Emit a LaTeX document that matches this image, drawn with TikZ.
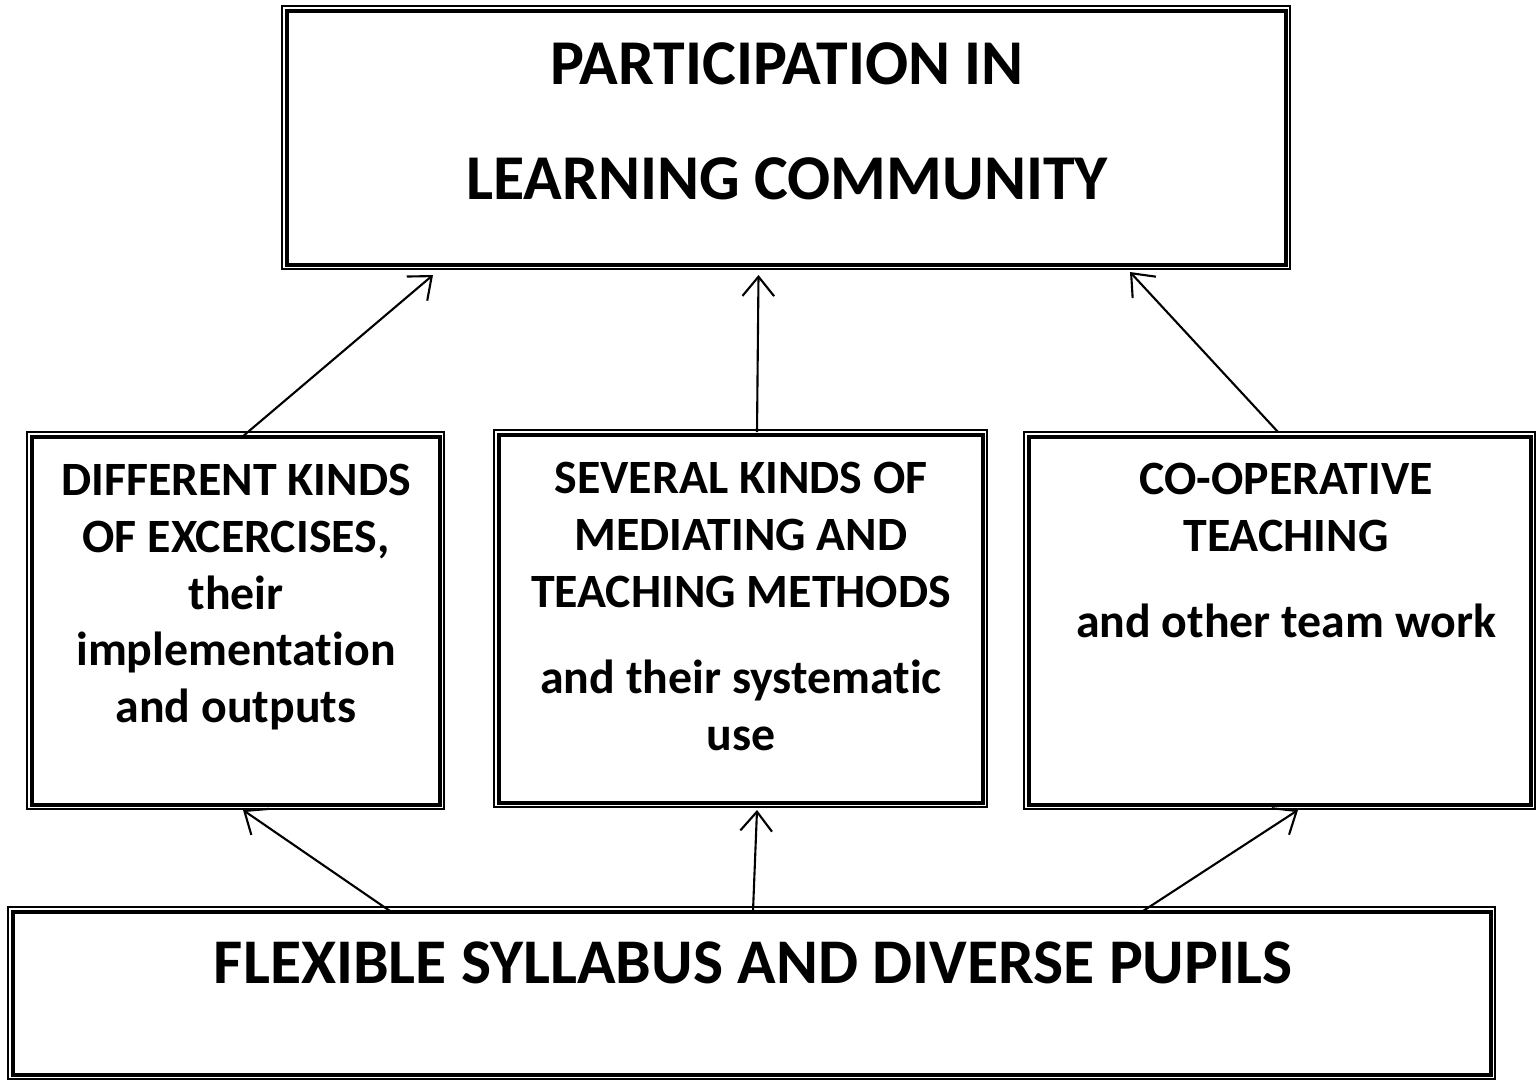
\documentclass[tikz,border=0pt]{standalone}
\usepackage{fontspec}
\setmainfont[Ligatures=NoCommon]{Carlito}
\usetikzlibrary{arrows.meta,fit,calc}
\begin{document}
\begin{tikzpicture}[x=0.01cm,y=-0.01cm,
  box/.style={draw, line width=1.15pt, rectangle, inner sep=0pt, outer sep=0pt},
  frame/.style={line width=0.45pt},
  link/.style={line width=0.6pt, -{Straight Barb[length=5.5pt,width=9pt,line width=0.6pt]}},
  headtxt/.style={font=\bfseries\fontsize{18.15}{32.7}\selectfont, align=center, inner sep=0pt, anchor=north},
  boxtxt/.style={font=\bfseries\fontsize{13.6}{16.2}\selectfont, align=center, inner sep=0pt, anchor=north},
  basetxt/.style={font=\bfseries\fontsize{18.1}{22}\selectfont, align=center, inner sep=0pt, anchor=north}]
\useasboundingbox (0,0) rectangle (1537,1081);

% boxes: thick inner border
\node[box, fit={(287,11) (1286,265)}] (top) {};
\node[box, fit={(32,437) (440,805)}] (b1) {};
\node[box, fit={(499,435) (983,803)}] (b2) {};
\node[box, fit={(1029,437) (1531,805)}] (b3) {};
\node[box, fit={(13,912) (1491,1075)}] (b4) {};

% thin outer borders
\foreach \n in {top,b1,b2,b3,b4}
  \draw[frame] ($(\n.north west)+(-5,-5)$) rectangle ($(\n.south east)+(4,4)$);

% texts
\node[headtxt] (t0) at (787,42) {PARTICIPATION IN\\LEARNING COMMUNITY};
\node[boxtxt] (t1) at (236,463) {DIFFERENT KINDS\\OF EXCERCISES,\\their\\implementation\\and outputs};
\node[boxtxt] (t2) at (741,461) {SEVERAL KINDS OF\\MEDIATING AND\\TEACHING METHODS\\[8.5pt]and their systematic\\use};
\node[boxtxt] (t3) at (1286,462) {CO-OPERATIVE\\TEACHING\\[8.5pt]and other team work};
\node[basetxt] (t4) at (753,941) {FLEXIBLE SYLLABUS AND DIVERSE PUPILS};

% connectors
\draw[link] ($(b1.north)+(6,0)$) -- ($(top.south west)+(146,10)$);
\draw[link] ($(b2.north)+(16,-3)$) -- ($(top.south)+(-28,10)$);
\draw[link] ($(b3.north)+(-2,-5)$) -- ($(top.south west)+(843,7)$);
\draw[link] ($(b4.north west)+(377,-1)$) -- ($(b1.south)+(7,5)$);
\draw[link] ($(b4.north west)+(740,-1)$) -- ($(b2.south)+(16,7)$);
\draw[link] ($(b4.north west)+(1130,-1)$) -- ($(b3.south)+(18,5)$);
\end{tikzpicture}
\end{document}
